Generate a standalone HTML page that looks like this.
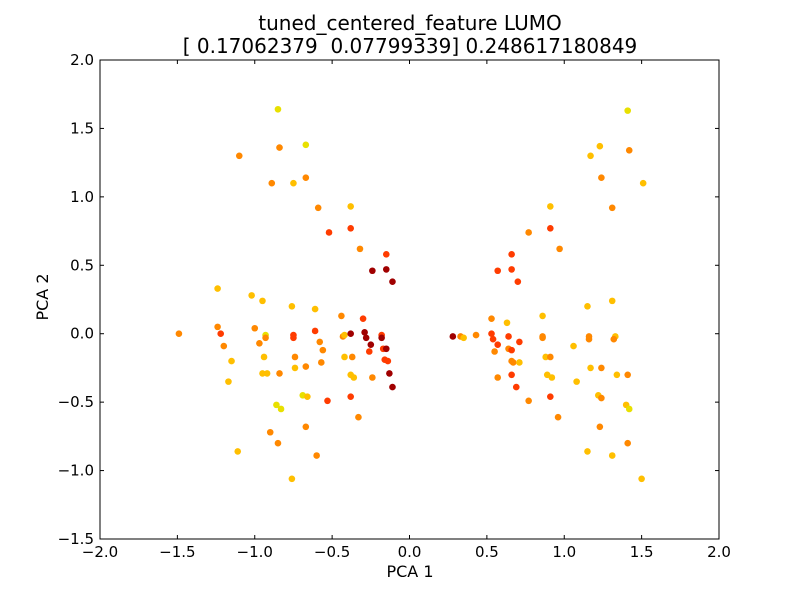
<!DOCTYPE html>
<html><head><meta charset="utf-8"><style>
body{margin:0;background:#fff;}
svg text{font-family:"DejaVu Sans","Liberation Sans",sans-serif;fill:#000;}
</style></head><body>
<svg id="chart" width="800" height="600" viewBox="0 0 800 600">
<rect x="0" y="0" width="800" height="600" fill="#fff"/>
<text x="410" y="30" font-size="20" text-anchor="middle">tuned_centered_feature LUMO</text>
<text x="410" y="53" font-size="20" text-anchor="middle" xml:space="preserve">[ 0.17062379  0.07799339] 0.248617180849</text>
<g id="marks"></g>
<rect x="100" y="60" width="619" height="479" fill="none" stroke="#000" stroke-width="1"/>
<g id="axes"></g>
<text x="410" y="577" font-size="16" text-anchor="middle">PCA 1</text>
<text x="48" y="297" font-size="16" text-anchor="middle" transform="rotate(-90 48 297)">PCA 2</text>
</svg>
<script>
const xs=[-0.85,-1.10,-0.84,-0.67,-0.89,-0.75,-0.67,-0.59,-0.38,-0.52,-0.38,-0.32,-0.15,-0.24,-0.15,-0.11,
-1.24,-1.02,-0.95,-0.76,-0.61,-0.44,-0.30,-1.49,-1.24,-1.22,-1.00,-0.93,-0.93,-0.75,-0.75,-0.61,-0.58,-0.43,-0.42,-0.38,-0.29,-0.28,-0.25,-0.18,-0.18,-0.17,-0.15,-0.16,-0.14,-0.13,-0.11,-0.26,
-1.20,-1.15,-0.97,-0.94,-0.74,-0.56,-0.57,-0.42,-0.37,-1.17,-0.95,-0.92,-0.84,-0.74,-0.67,-0.38,-0.36,-0.24,
-0.86,-0.83,-0.69,-0.66,-0.53,-0.38,-0.33,-0.90,-0.85,-0.67,-0.60,-1.11,-0.76,
1.41,1.17,1.23,1.42,1.24,1.51,1.31,0.91,0.77,0.91,0.97,0.66,0.57,0.66,0.70,
0.53,0.63,0.86,1.15,1.31,0.28,0.33,0.35,0.43,0.53,0.54,0.57,0.55,0.64,0.64,0.66,0.71,0.86,0.86,1.06,1.16,1.16,1.33,1.32,
0.66,0.67,0.71,0.88,0.91,0.57,0.66,0.69,0.89,0.92,1.08,1.17,1.24,1.34,1.41,
0.77,0.91,0.96,1.22,1.24,1.40,1.42,1.23,1.41,1.15,1.31,1.50];
const ys=[1.64,1.30,1.36,1.38,1.10,1.10,1.14,0.92,0.93,0.74,0.77,0.62,0.58,0.46,0.47,0.38,
0.33,0.28,0.24,0.20,0.18,0.13,0.11,0.00,0.05,0.00,0.04,-0.01,-0.03,-0.01,-0.03,0.02,-0.06,-0.02,-0.01,0.00,0.01,-0.03,-0.08,-0.01,-0.03,-0.11,-0.11,-0.19,-0.20,-0.29,-0.39,-0.13,
-0.09,-0.20,-0.07,-0.17,-0.17,-0.12,-0.21,-0.17,-0.17,-0.35,-0.29,-0.29,-0.29,-0.25,-0.24,-0.30,-0.32,-0.32,
-0.52,-0.55,-0.45,-0.46,-0.49,-0.46,-0.61,-0.72,-0.80,-0.68,-0.89,-0.86,-1.06,
1.63,1.30,1.37,1.34,1.14,1.10,0.92,0.93,0.74,0.77,0.62,0.58,0.46,0.47,0.38,
0.11,0.08,0.13,0.20,0.24,-0.02,-0.02,-0.03,-0.01,0.00,-0.04,-0.08,-0.13,-0.02,-0.11,-0.12,-0.06,-0.02,-0.03,-0.09,-0.02,-0.04,-0.02,-0.04,
-0.20,-0.21,-0.21,-0.17,-0.17,-0.32,-0.30,-0.39,-0.30,-0.32,-0.35,-0.25,-0.25,-0.30,-0.30,
-0.49,-0.46,-0.61,-0.45,-0.47,-0.52,-0.55,-0.68,-0.80,-0.86,-0.89,-1.06];
const cs=("YOOYOAOOARRORDDD"+
"AAAAAOROOROYORRROOADDDDRDRDRRDDR"+
"OAOAOOOAOAAAOAOAAO"+
"YYYARROOOOOAA"+
"YAAOOAOAORORRRR"+
"OAAAADOAORRRORORROOAOOAO"+
"OOAAOORRAAAAOAO"+
"OROAOAYOOAAA").split("");
const xTicks=[-2.0,-1.5,-1.0,-0.5,0.0,0.5,1.0,1.5,2.0];
const yTicks=[-1.5,-1.0,-0.5,0.0,0.5,1.0,1.5,2.0];
const X0=100,X1=719,Y0=539,Y1=60;
function sx(v){return X0+(v+2)/4*(X1-X0);}
function sy(v){return Y0-(v+1.5)/3.5*(Y0-Y1);}
const colors={Y:"#e8e000",A:"#ffbf00",O:"#ff8800",R:"#ff3c00",D:"#a00000"};
const NS="http://www.w3.org/2000/svg";
const marks=document.getElementById("marks");
for(let i=0;i<xs.length;i++){
  const c=document.createElementNS(NS,"circle");
  c.setAttribute("cx",sx(xs[i]));c.setAttribute("cy",sy(ys[i]));c.setAttribute("r",3.3);
  c.setAttribute("fill",colors[cs[i]]||"#ff8800");
  
  
  marks.appendChild(c);
}
const axes=document.getElementById("axes");
function fmt(v){return (v<0?"\u2212":"")+Math.abs(v).toFixed(1);}
xTicks.forEach(v=>{
  const x=sx(v);
  [[Y0,Y0-4],[Y1,Y1+4]].forEach(p=>{const l=document.createElementNS(NS,"line");
    l.setAttribute("x1",x);l.setAttribute("x2",x);l.setAttribute("y1",p[0]);l.setAttribute("y2",p[1]);l.setAttribute("stroke","#000");
    
    
    axes.appendChild(l);});
  const t=document.createElementNS(NS,"text");
  t.setAttribute("x",x);t.setAttribute("y",Y0+18);t.setAttribute("font-size","15");t.setAttribute("text-anchor","middle");
  t.textContent=fmt(v);
  
  
  axes.appendChild(t);
});
yTicks.forEach(v=>{
  const y=sy(v);
  [[X0,X0+4],[X1,X1-4]].forEach(p=>{const l=document.createElementNS(NS,"line");
    l.setAttribute("x1",p[0]);l.setAttribute("x2",p[1]);l.setAttribute("y1",y);l.setAttribute("y2",y);l.setAttribute("stroke","#000");
    
    
    axes.appendChild(l);});
  const t=document.createElementNS(NS,"text");
  t.setAttribute("x",X0-6);t.setAttribute("y",y+5);t.setAttribute("font-size","15");t.setAttribute("text-anchor","end");
  t.textContent=fmt(v);
  
  
  axes.appendChild(t);
});
</script>
</body></html>
